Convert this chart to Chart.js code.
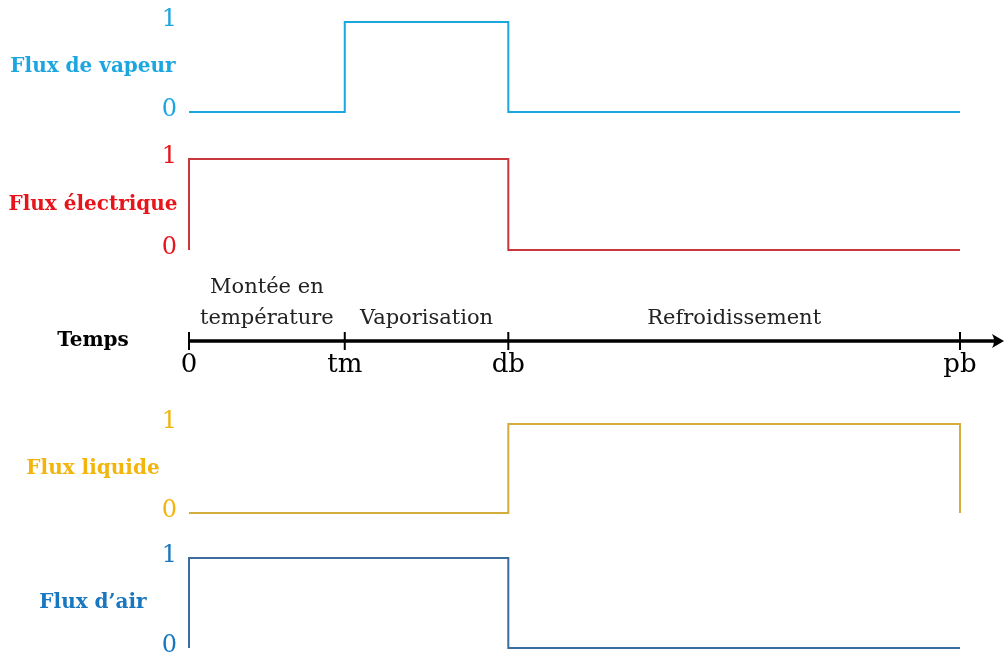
<!DOCTYPE html>
<html>
<head>
<meta charset="utf-8">
<script src="https://cdn.jsdelivr.net/npm/chart.js@4.4.1/dist/chart.umd.min.js"></script>
<style>
html,body{margin:0;padding:0;background:#fff;overflow:hidden}
canvas{display:block}
</style>
</head>
<body>
<canvas id="chrono" width="1004" height="655"></canvas>
<script>
// time marks: 0, tm, db, pb
const timeTicks = [0, 2, 4.1, 9.9];
const timeLabels = ['0', 'tm', 'db', 'pb'];
const phaseNames = [['Montée en', 'température'], ['Vaporisation'], ['Refroidissement']];
const seriesNames = ['Flux de vapeur', 'Flux électrique', 'Flux liquide', 'Flux d\u2019air'];
const levelLabels = ['0', '1'];

// step signals (time of change, level from there on)
const vapeurT = [0, 2, 4.1, 9.9];
const vapeurV = [0, 1, 0, 0];
const electriqueT = [0, 0, 4.1, 9.9];
const electriqueV = [0, 1, 0, 0];
const liquideT = [0, 4.1, 9.9, 9.9];
const liquideV = [0, 1, 0, 0];
const airT = [0, 0, 4.1, 9.9];
const airV = [0, 1, 0, 0];

// layout
const W = 1004, H = 655;
const X0 = 189, XEND = 960, AXIS_Y = 341, LABEL_CX = 93, LEVEL_X = 177;
const bands = [
  {top: 22, bottom: 112, line: '#1ca6df', text: '#1ca6df'},
  {top: 159, bottom: 250, line: '#c8373b', text: '#e8141b'},
  {top: 424, bottom: 513, line: '#d4ae3c', text: '#f2b50d'},
  {top: 558, bottom: 648, line: '#3b6c9c', text: '#1877bf'}
];

const pxPerUnit = (XEND - X0) / (timeTicks[3] - timeTicks[0]);
const xMin = timeTicks[0] - X0 / pxPerUnit;
const xMax = xMin + W / pxPerUnit;

const toPoints = (ts, vs) => ts.map((t, i) => ({x: t, y: vs[i]}));
const series = [
  toPoints(vapeurT, vapeurV),
  toPoints(electriqueT, electriqueV),
  toPoints(liquideT, liquideV),
  toPoints(airT, airV)
];

const scales = {
  x: {type: 'linear', min: xMin, max: xMax, display: false}
};
bands.forEach((b, i) => {
  const ppu = b.bottom - b.top;
  const max = 1 + b.top / ppu;
  scales['y' + i] = {type: 'linear', min: max - H / ppu, max: max, display: false};
});

const SERIF = '"DejaVu Serif", "Liberation Serif", serif';

const decorPlugin = {
  id: 'decor',
  afterDatasetsDraw(chart) {
    const ctx = chart.ctx;
    const xs = chart.scales.x;
    ctx.save();
    ctx.textBaseline = 'middle';

    // series names and 0/1 levels
    bands.forEach((b, i) => {
      const ys = chart.scales['y' + i];
      ctx.fillStyle = b.text;
      ctx.font = 'bold 20px ' + SERIF;
      ctx.textAlign = 'center';
      ctx.fillText(seriesNames[i], LABEL_CX, (ys.getPixelForValue(0) + ys.getPixelForValue(1)) / 2);
      ctx.font = '24px ' + SERIF;
      ctx.textAlign = 'right';
      levelLabels.forEach((lab, v) => {
        ctx.fillText(lab, LEVEL_X, ys.getPixelForValue(v) - 2);
      });
    });

    // time axis
    ctx.strokeStyle = '#000';
    ctx.fillStyle = '#000';
    ctx.lineWidth = 3.5;
    ctx.beginPath();
    ctx.moveTo(xs.getPixelForValue(timeTicks[0]), AXIS_Y);
    ctx.lineTo(W - 6, AXIS_Y);
    ctx.stroke();
    ctx.beginPath();
    ctx.moveTo(W, AXIS_Y);
    ctx.lineTo(W - 12, AXIS_Y - 7);
    ctx.quadraticCurveTo(W - 8, AXIS_Y, W - 12, AXIS_Y + 7);
    ctx.closePath();
    ctx.fill();

    ctx.lineWidth = 2;
    ctx.font = '26px ' + SERIF;
    ctx.textAlign = 'center';
    timeTicks.forEach((t, i) => {
      const px = xs.getPixelForValue(t);
      ctx.beginPath();
      ctx.moveTo(px, AXIS_Y - 9);
      ctx.lineTo(px, AXIS_Y + 9);
      ctx.stroke();
      ctx.fillText(timeLabels[i], px, AXIS_Y + 24);
    });

    ctx.font = 'bold 20px ' + SERIF;
    ctx.fillText('Temps', LABEL_CX, AXIS_Y);

    // phase names between marks
    ctx.font = '21px ' + SERIF;
    ctx.fillStyle = '#222';
    phaseNames.forEach((lines, i) => {
      const cx = (xs.getPixelForValue(timeTicks[i]) + xs.getPixelForValue(timeTicks[i + 1])) / 2;
      lines.forEach((ln, k) => {
        ctx.fillText(ln, cx, AXIS_Y - 22 - (lines.length - 1 - k) * 31);
      });
    });
    ctx.restore();
  }
};

new Chart(document.getElementById('chrono'), {
  type: 'line',
  data: {
    datasets: series.map((pts, i) => ({
      data: pts,
      yAxisID: 'y' + i,
      borderColor: bands[i].line,
      borderWidth: 2,
      pointRadius: 0,
      stepped: 'before',
      fill: false,
      clip: false
    }))
  },
  options: {
    responsive: false,
    devicePixelRatio: 1,
    animation: false,
    layout: {padding: 0},
    scales: scales,
    plugins: {legend: {display: false}, tooltip: {enabled: false}}
  },
  plugins: [decorPlugin]
});
</script>
</body>
</html>
